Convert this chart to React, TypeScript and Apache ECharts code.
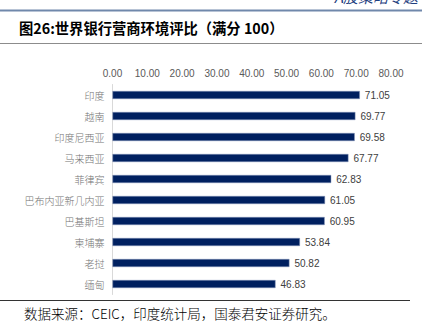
import React, { useEffect, useRef } from "react";
import * as echarts from "echarts";

const categories = ["印度", "越南", "印度尼西亚", "马来西亚", "菲律宾", "巴布内亚新几内亚", "巴基斯坦", "柬埔寨", "老挝", "缅甸"];
const values = [71.05, 69.77, 69.58, 67.77, 62.83, 61.05, 60.95, 53.84, 50.82, 46.83];
const titleText = "图26:世界银行营商环境评比（满分 100）";
const sourceText = "数据来源：CEIC，印度统计局，国泰君安证券研究。";
const headerText = "A股策略专题";

export default function App() {
  const ref = useRef<HTMLDivElement>(null);
  useEffect(() => {
    if (!ref.current) return;
    const chart = echarts.init(ref.current, null, { renderer: "svg" });
    chart.setOption({
      animation: false,
      backgroundColor: "#ffffff",
      grid: { left: 112.5, right: 41, top: 84.5, height: 210, containLabel: false },
      xAxis: {
        type: "value",
        position: "top",
        min: 0,
        max: 80,
        interval: 10,
        axisLine: { show: false },
        axisTick: { show: false },
        splitLine: { show: false },
        axisLabel: {
          color: "#595959",
          fontSize: 10,
          margin: 6,
          fontFamily: "Liberation Sans, Arial, sans-serif",
          formatter: (v: number) => v.toFixed(2),
        },
      },
      yAxis: {
        type: "category",
        data: categories,
        inverse: true,
        axisLine: { show: true, lineStyle: { color: "#d9d9d9", width: 1 } },
        axisTick: { show: false },
        axisLabel: { color: "#737373", fontSize: 10, margin: 8, fontFamily: "Noto Sans CJK SC", fontWeight: 300 },
      },
      series: [
        {
          type: "bar",
          data: values,
          barWidth: 8,
          itemStyle: { color: "#002060", borderColor: "#8494b8", borderWidth: 0.5 },
          label: {
            show: true,
            position: "right",
            distance: 5,
            color: "#404040",
            fontSize: 10,
            fontFamily: "Liberation Sans, Arial, sans-serif",
            formatter: (p: any) => p.value.toFixed(2),
          },
        },
      ],
      graphic: [
        {
          type: "text",
          right: 14,
          top: -11,
          style: { text: headerText, fontSize: 15, fontStyle: "italic", fill: "#1f3f7f", fontFamily: "Noto Sans CJK SC" },
        },
        { type: "line", shape: { x1: 0, y1: 10.5, x2: 422, y2: 10.5 }, style: { stroke: "#7088ab", lineWidth: 2 } },
        {
          type: "text",
          left: 19,
          top: 20,
          style: { text: titleText, fontSize: 14.3, fontWeight: "bold", fill: "#000000", fontFamily: "Noto Sans CJK SC" },
        },
        { type: "line", shape: { x1: 0, y1: 43.5, x2: 422, y2: 43.5 }, style: { stroke: "#8c8c8c", lineWidth: 1 } },
        { type: "line", shape: { x1: 0, y1: 300.5, x2: 410, y2: 300.5 }, style: { stroke: "#333333", lineWidth: 1 } },
        {
          type: "text",
          left: 24,
          top: 306,
          style: { text: sourceText, fontSize: 13.5, fill: "#000000", fontFamily: "Noto Sans CJK SC", fontWeight: 300 },
        },
      ],
    });
    return () => chart.dispose();
  }, []);
  return <div ref={ref} style={{ position: "absolute", left: 0, top: 0, width: 432, height: 331 }} />;
}
